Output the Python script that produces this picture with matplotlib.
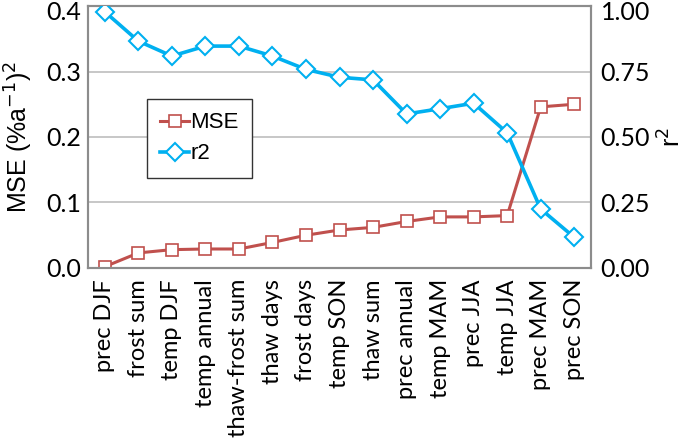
import matplotlib.pyplot as plt
import matplotlib.transforms as mtransforms

categories = ["prec DJF", "frost sum", "temp DJF", "temp annual", "thaw-frost sum",
              "thaw days", "frost days", "temp SON", "thaw sum", "prec annual",
              "temp MAM", "prec JJA", "temp JJA", "prec MAM", "prec SON"]
mse = [0.002, 0.023, 0.028, 0.029, 0.029, 0.039, 0.050, 0.058, 0.062,
       0.071, 0.078, 0.078, 0.080, 0.246, 0.250]
r2 = [0.978, 0.866, 0.809, 0.847, 0.847, 0.809, 0.758, 0.728, 0.718,
      0.588, 0.608, 0.629, 0.516, 0.225, 0.117]

red = "#C0504D"
blue = "#00B0F0"
tick_font = "Lato"

fig = plt.figure(figsize=(6.85, 4.42), dpi=100)
ax1 = fig.add_axes([0.1285, 0.3937, 0.7343, 0.5927])
ax2 = ax1.twinx()

x = list(range(len(categories)))
l1, = ax1.plot(x, mse, color=red, lw=2.2, marker="s", ms=9, mfc="white",
               mec=red, mew=1.2, label="MSE", zorder=3)
l2, = ax2.plot(x, r2, color=blue, lw=2.6, marker="D", ms=9, mfc="white",
               mec=blue, mew=1.5, label="r2", zorder=3)

ax1.set_xlim(-0.5, len(categories) - 0.5)
ax1.set_ylim(0, 0.4)
ax2.set_ylim(0, 1.0)
ax1.set_yticks([0.0, 0.1, 0.2, 0.3, 0.4])
ax1.set_yticklabels(["0.0", "0.1", "0.2", "0.3", "0.4"], fontsize=18, family=tick_font)
ax2.set_yticks([0, 0.25, 0.5, 0.75, 1.0])
ax2.set_yticklabels(["0.00", "0.25", "0.50", "0.75", "1.00"], fontsize=18, family=tick_font)
ax1.set_xticks(x)
ax1.set_xticklabels(categories, rotation=90, fontsize=17, family=tick_font)
ax1.tick_params(axis="x", length=0, pad=8)
ax1.tick_params(axis="y", length=0, pad=5)
ax2.tick_params(length=0, pad=7)

# nudge top labels down so they stay inside the figure
for lab in (ax1.get_yticklabels()[-1], ax2.get_yticklabels()[-1]):
    lab.set_transform(lab.get_transform() +
                      mtransforms.ScaledTranslation(0, -4 / 100, fig.dpi_scale_trans))

ax1.grid(axis="y", color="#BEBEBE", lw=1.2)
ax1.set_axisbelow(True)
for ax in (ax1, ax2):
    for s in ax.spines.values():
        s.set_color("#8C8C8C")
        s.set_linewidth(1.5)

ax1.set_ylabel("MSE (%a$^{-1}$)$^2$", fontsize=18, family="Liberation Sans", labelpad=8)
ax2.set_ylabel("r$^2$", fontsize=18, family="Liberation Sans", labelpad=6)

leg = ax1.legend(handles=[l1, l2], loc="upper left", bbox_to_anchor=(0.117, 0.645),
                 borderaxespad=0, fancybox=False, edgecolor="#333333", framealpha=1,
                 prop={"family": "Liberation Sans", "size": 16},
                 handlelength=1.3, handletextpad=0.05, borderpad=0.6, labelspacing=0.45)
leg.get_frame().set_linewidth(1.0)
leg.set_zorder(5)

fig.savefig("out.png", dpi=100)
